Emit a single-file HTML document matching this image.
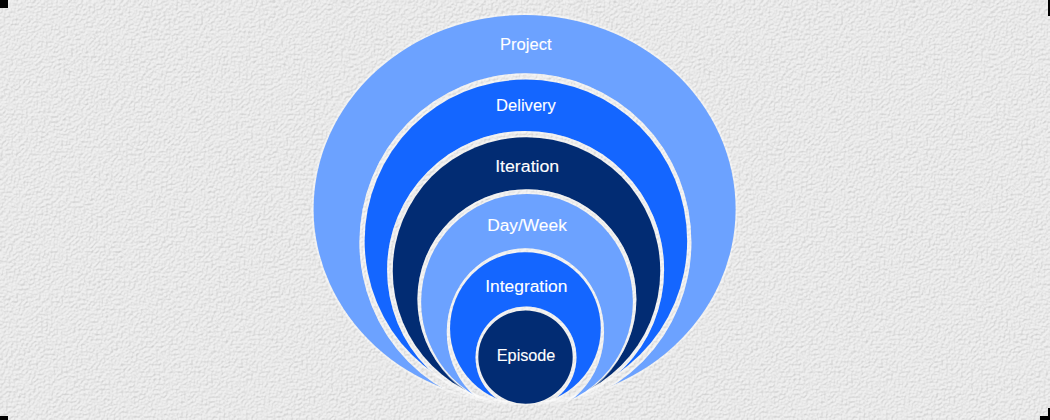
<!DOCTYPE html>
<html><head><meta charset="utf-8"><style>
html,body{margin:0;padding:0;width:1050px;height:420px;overflow:hidden;background:#e8e8e8}
svg{display:block}
text{font-family:"Liberation Sans",sans-serif;font-size:16.0px;fill:#fff;stroke:#fff;stroke-width:0.1px;text-anchor:middle}
</style></head><body>
<svg width="1050" height="420" viewBox="0 0 1050 420">
<defs>
<filter id="tex" x="0" y="0" width="1050" height="420" filterUnits="userSpaceOnUse" color-interpolation-filters="sRGB">
<feTurbulence type="fractalNoise" baseFrequency="0.4" numOctaves="3" seed="7" result="n"/>
<feDiffuseLighting in="n" surfaceScale="2.0" diffuseConstant="1" lighting-color="#fff" result="l">
<feDistantLight azimuth="235" elevation="55"/>
</feDiffuseLighting>
<feGaussianBlur stdDeviation="0.6"/>
<feComponentTransfer>
<feFuncR type="linear" slope="0.16" intercept="0.786"/>
<feFuncG type="linear" slope="0.16" intercept="0.786"/>
<feFuncB type="linear" slope="0.16" intercept="0.786"/>
</feComponentTransfer>
</filter>
<clipPath id="cp0"><ellipse cx="524.60" cy="209.00" rx="211.00" ry="194.00" fill="#fff"/></clipPath>
<mask id="m0" maskUnits="userSpaceOnUse" x="0" y="0" width="1050" height="420"><rect width="1050" height="420" fill="#fff"/><ellipse cx="525.40" cy="242.15" rx="166.00" ry="168.85" fill="#000"/><ellipse cx="525.60" cy="269.95" rx="138.50" ry="139.05" fill="#000"/><ellipse cx="526.90" cy="299.20" rx="109.50" ry="110.00" fill="#000"/><ellipse cx="525.40" cy="332.10" rx="78.65" ry="83.80" fill="#000"/><ellipse cx="526.00" cy="357.35" rx="50.45" ry="50.75" fill="#000"/></mask>
<mask id="m1" maskUnits="userSpaceOnUse" x="0" y="0" width="1050" height="420"><rect width="1050" height="420" fill="#fff"/><ellipse cx="525.60" cy="269.95" rx="138.50" ry="139.05" fill="#000"/><ellipse cx="526.90" cy="299.20" rx="109.50" ry="110.00" fill="#000"/><ellipse cx="525.40" cy="332.10" rx="78.65" ry="83.80" fill="#000"/><ellipse cx="526.00" cy="357.35" rx="50.45" ry="50.75" fill="#000"/></mask>
<mask id="m2" maskUnits="userSpaceOnUse" x="0" y="0" width="1050" height="420"><rect width="1050" height="420" fill="#fff"/><ellipse cx="526.90" cy="299.20" rx="109.50" ry="110.00" fill="#000"/><ellipse cx="525.40" cy="332.10" rx="78.65" ry="83.80" fill="#000"/><ellipse cx="526.00" cy="357.35" rx="50.45" ry="50.75" fill="#000"/></mask>
<mask id="m3" maskUnits="userSpaceOnUse" x="0" y="0" width="1050" height="420"><rect width="1050" height="420" fill="#fff"/><ellipse cx="525.40" cy="332.10" rx="78.65" ry="83.80" fill="#000"/><ellipse cx="526.00" cy="357.35" rx="50.45" ry="50.75" fill="#000"/></mask>
<mask id="m4" maskUnits="userSpaceOnUse" x="0" y="0" width="1050" height="420"><rect width="1050" height="420" fill="#fff"/><ellipse cx="526.00" cy="357.35" rx="50.45" ry="50.75" fill="#000"/></mask>
</defs>
<rect width="1050" height="420" fill="#e8e8e8"/>
<rect width="1050" height="420" filter="url(#tex)"/>
<g opacity="0.40"><ellipse cx="524.60" cy="209.00" rx="212.00" ry="195.00" fill="none" stroke="#fff" stroke-width="2.00"/></g>
<ellipse cx="524.60" cy="209.00" rx="211.00" ry="194.00" fill="#6ca2ff" mask="url(#m0)"/>
<g opacity="0.40" clip-path="url(#cp0)"><ellipse cx="525.40" cy="242.15" rx="165.00" ry="167.85" fill="none" stroke="#fff" stroke-width="2.00"/><ellipse cx="525.90" cy="240.85" rx="162.25" ry="162.25" fill="none" stroke="#fff" stroke-width="2.00"/></g>
<ellipse cx="525.90" cy="240.85" rx="161.25" ry="161.25" fill="#1466ff" mask="url(#m1)"/>
<g opacity="0.40" clip-path="url(#cp0)"><ellipse cx="525.60" cy="269.95" rx="137.50" ry="138.05" fill="none" stroke="#fff" stroke-width="2.00"/><ellipse cx="526.50" cy="270.95" rx="134.75" ry="134.75" fill="none" stroke="#fff" stroke-width="2.00"/></g>
<ellipse cx="526.50" cy="270.95" rx="133.75" ry="133.75" fill="#022c73" mask="url(#m2)"/>
<g opacity="0.40" clip-path="url(#cp0)"><ellipse cx="526.90" cy="299.20" rx="108.50" ry="109.00" fill="none" stroke="#fff" stroke-width="2.00"/><ellipse cx="527.00" cy="301.65" rx="106.85" ry="108.65" fill="none" stroke="#fff" stroke-width="2.00"/></g>
<ellipse cx="527.00" cy="301.65" rx="105.85" ry="107.65" fill="#6ca2ff" mask="url(#m3)"/>
<g opacity="0.40" clip-path="url(#cp0)"><ellipse cx="525.40" cy="332.10" rx="77.65" ry="82.80" fill="none" stroke="#fff" stroke-width="2.00"/><ellipse cx="525.40" cy="328.30" rx="76.35" ry="77.10" fill="none" stroke="#fff" stroke-width="2.00"/></g>
<ellipse cx="525.40" cy="328.30" rx="75.35" ry="76.10" fill="#1466ff" mask="url(#m4)"/>
<g opacity="0.40" clip-path="url(#cp0)"><ellipse cx="526.00" cy="357.35" rx="49.45" ry="49.75" fill="none" stroke="#fff" stroke-width="2.00"/><ellipse cx="525.50" cy="357.10" rx="48.20" ry="47.60" fill="none" stroke="#fff" stroke-width="2.00"/></g>
<ellipse cx="525.50" cy="357.10" rx="47.20" ry="46.60" fill="#022c73"/>
<text x="525.8" y="50.3" textLength="51.4" lengthAdjust="spacingAndGlyphs">Project</text>
<text x="526.0" y="110.8" textLength="59.8" lengthAdjust="spacingAndGlyphs">Delivery</text>
<text x="527.2" y="171.9" textLength="64.1" lengthAdjust="spacingAndGlyphs">Iteration</text>
<text x="527.0" y="231.0" textLength="79.7" lengthAdjust="spacingAndGlyphs">Day/Week</text>
<text x="526.3" y="291.9" textLength="82.1" lengthAdjust="spacingAndGlyphs">Integration</text>
<text x="526.1" y="360.7" textLength="58.6" lengthAdjust="spacingAndGlyphs">Episode</text>
<rect x="0" y="0" width="8" height="8" fill="#000"/>
<rect x="1048" y="0" width="2" height="16" fill="#000"/>
<rect x="0" y="416" width="8" height="4" fill="#000"/>
<rect x="1040" y="416" width="10" height="4" fill="#000"/>
<rect x="1048" y="408" width="2" height="12" fill="#000"/>
</svg>
</body></html>
